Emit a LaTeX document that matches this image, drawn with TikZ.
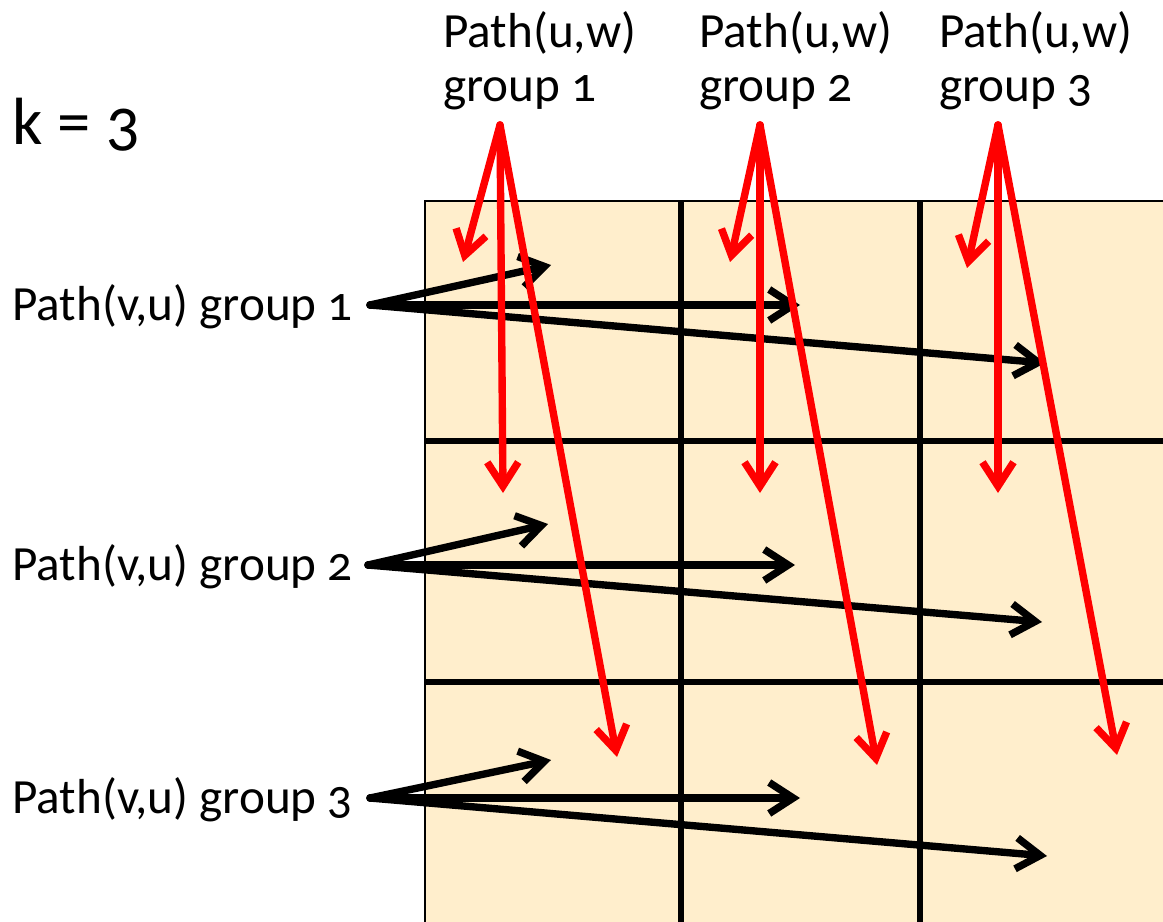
\documentclass[tikz,border=0pt]{standalone}
\usepackage{fontspec}
\setmainfont{Carlito}[Numbers=OldStyle]
\usetikzlibrary{arrows.meta}
\definecolor{cellfill}{RGB}{255,238,204}
\definecolor{pathred}{RGB}{255,0,0}
\tikzset{
  grouplabel/.style={anchor=base west, inner sep=0pt, font=\fontsize{28}{31}\selectfont},
  toplabel/.style={anchor=north west, align=left, inner sep=0pt, font=\fontsize{28}{31}\selectfont},
  klabel/.style={anchor=base west, inner sep=0pt, font=\fontsize{38}{42}\selectfont},
  gridline/.style={line width=3.6pt},
  border/.style={line width=1.6pt},
  arrow/.style={-{Straight Barb[length=4.8mm,width=6.2mm]}, line width=4.2pt, line cap=round, line join=round},
  redarrow/.style={arrow, draw=pathred}
}

\begin{document}
\begin{tikzpicture}[x=0.02cm, y=-0.02cm]
\useasboundingbox (0,0) rectangle (1163,922);
% the k x k grid of cells
\fill[cellfill] (425,201) rectangle (1163,922);
\draw[border] (425,922) -- (425,201) -- (1163,201);
\draw[gridline] (681,201) -- (681,922);
\draw[gridline] (920,201) -- (920,922);
\draw[gridline] (425,441) -- (1163,441);
\draw[gridline] (425,682) -- (1163,682);

% labels
\node[klabel] (k) at (12,145) {k = 3};
\node[toplabel] (uw1) at (443,11) {Path(u,w)\\group 1};
\node[toplabel] (uw2) at (699,11) {Path(u,w)\\group 2};
\node[toplabel] (uw3) at (939,11) {Path(u,w)\\group 3};
\node[grouplabel] (vu1) at (12,320) {Path(v,u) group 1};
\node[grouplabel] (vu2) at (12,580) {Path(v,u) group 2};
\node[grouplabel] (vu3) at (12,813) {Path(v,u) group 3};

% arrow sources and targets
\coordinate (vu1s) at (370,305);
\coordinate (vu2s) at (368,565);
\coordinate (vu3s) at (370,798);
\coordinate (uw1s) at (500,125);
\coordinate (uw2s) at (760,125);
\coordinate (uw3s) at (998,125);
\coordinate (b11) at (551,265);
\coordinate (b12) at (800,305);
\coordinate (b13) at (1045,363);
\coordinate (b21) at (548,524);
\coordinate (b22) at (795,565);
\coordinate (b23) at (1042,622);
\coordinate (b31) at (551,760);
\coordinate (b32) at (800,798);
\coordinate (b33) at (1047,856);
\coordinate (r11) at (463,262);
\coordinate (r12) at (503,493);
\coordinate (r13) at (617,757);
\coordinate (r21) at (730,262);
\coordinate (r22) at (760,493);
\coordinate (r23) at (877,765);
\coordinate (r31) at (967,268);
\coordinate (r32) at (998,493);
\coordinate (r33) at (1117,755);

% Path(v,u) groups
\draw[arrow] (vu1s) -- (b11);
\draw[arrow] (vu1s) -- (b12);
\draw[arrow] (vu1s) -- (b13);
\draw[arrow] (vu2s) -- (b21);
\draw[arrow] (vu2s) -- (b22);
\draw[arrow] (vu2s) -- (b23);
\draw[arrow] (vu3s) -- (b31);
\draw[arrow] (vu3s) -- (b32);
\draw[arrow] (vu3s) -- (b33);

% Path(u,w) groups
\draw[redarrow] (uw1s) -- (r11);
\draw[redarrow] (uw1s) -- (r12);
\draw[redarrow] (uw1s) -- (r13);
\draw[redarrow] (uw2s) -- (r21);
\draw[redarrow] (uw2s) -- (r22);
\draw[redarrow] (uw2s) -- (r23);
\draw[redarrow] (uw3s) -- (r31);
\draw[redarrow] (uw3s) -- (r32);
\draw[redarrow] (uw3s) -- (r33);
\end{tikzpicture}
\end{document}
